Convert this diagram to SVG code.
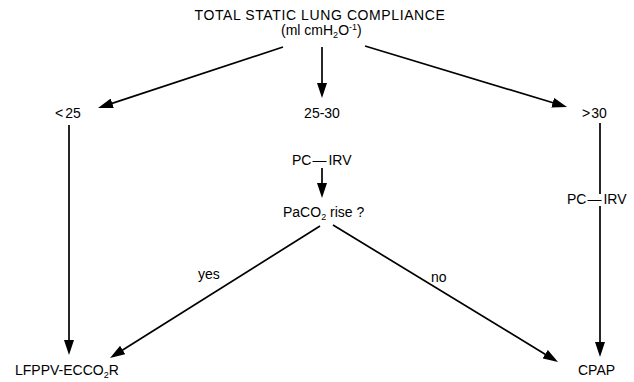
<svg xmlns="http://www.w3.org/2000/svg" width="634" height="382" viewBox="0 0 634 382">
  <style>
    text { font-family: "Liberation Sans", Arial, sans-serif; font-size: 14px; fill: #000; }
    .title { letter-spacing: 0.6px; }
    .sub { font-size: 9px; }
    .conn line { stroke: #000; stroke-width: 1.7; fill: none; }
    .arr { marker-end: url(#ah); }
  </style>
  <defs>
    <marker id="ah" viewBox="0 0 15 10" refX="9" refY="5" markerWidth="15" markerHeight="10" markerUnits="userSpaceOnUse" orient="auto">
      <path d="M0,0 L15,5 L0,10 Z" fill="#000"/>
    </marker>
  </defs>
  <rect width="634" height="382" fill="#fff"/>

  <g id="connectors" class="conn">
    <line class="arr" x1="283" y1="47" x2="103.7" y2="106.1"/>
    <line class="arr" x1="322" y1="47" x2="322" y2="92"/>
    <line class="arr" x1="365" y1="46" x2="561.3" y2="105.3"/>
    <line class="arr" x1="69" y1="125" x2="69" y2="349"/>
    <line class="arr" x1="322" y1="168" x2="322" y2="192"/>
    <line x1="600" y1="123" x2="600" y2="194"/>
    <line class="arr" x1="600" y1="206" x2="600" y2="351"/>
    <line class="arr" x1="320" y1="226" x2="115.1" y2="354.8"/>
    <line class="arr" x1="333" y1="225" x2="552.9" y2="358.9"/>
    <text x="198" y="279">yes</text>
    <text x="431" y="282">no</text>
  </g>

  <g id="title">
    <text class="title" x="320" y="20" text-anchor="middle">TOTAL STATIC LUNG COMPLIANCE</text>
    <text x="281" y="35">(ml cmH<tspan class="sub" dy="3">2</tspan><tspan dy="-3">O</tspan><tspan class="sub" dy="-5">-1</tspan><tspan dy="5">)</tspan></text>
  </g>
  <g id="lt25"><text x="55" y="118">&lt;<tspan dx="2">25</tspan></text></g>
  <g id="mid2530"><text x="322" y="118" text-anchor="middle">25-30</text></g>
  <g id="gt30"><text x="582" y="118">&gt;<tspan dx="1">30</tspan></text></g>
  <g id="pcirv-mid"><text x="292" y="165">PC<tspan dx="1">—</tspan><tspan dx="2">IRV</tspan></text></g>
  <g id="paco2"><text x="283" y="217">PaCO<tspan class="sub" dy="3">2</tspan><tspan dy="-3"> rise ?</tspan></text></g>
  <g id="pcirv-right"><text x="567" y="204">PC<tspan dx="1">—</tspan><tspan dx="2">IRV</tspan></text></g>
  <g id="lfppv"><text x="15" y="375">LFPPV-ECCO<tspan class="sub" dy="3">2</tspan><tspan dy="-3">R</tspan></text></g>
  <g id="cpap"><text x="578" y="375">CPAP</text></g>
</svg>
